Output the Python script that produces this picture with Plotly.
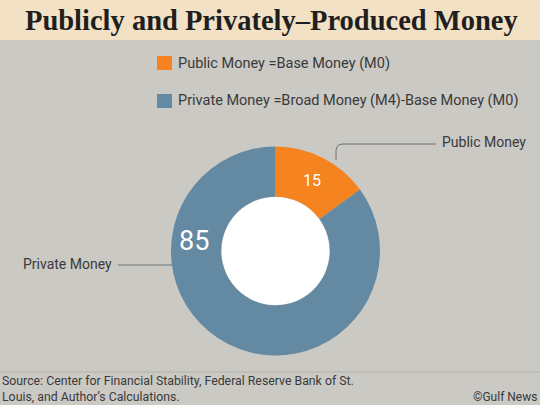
import plotly.graph_objects as go

labels = ["Public Money", "Private Money"]
values = [15, 85]
legend_texts = ["Public Money =Base Money (M0)",
                "Private Money =Broad Money (M4)-Base Money (M0)"]
colors = ["#f5831f", "#6489a3"]
title = "Publicly and Privately\u2013Produced Money"
source_lines = ["Source: Center for Financial Stability, Federal Reserve Bank of St.",
                "Louis, and Author\u2019s Calculations."]
credit = "\u00a9Gulf News"

W, H = 540, 405
def px(x): return x / W
def py(y): return 1 - y / H

BG = "#cac9c4"
BODY = "Roboto"
TXT = "#3a3a3a"

fig = go.Figure(go.Pie(
    labels=labels, values=values, sort=False, direction="clockwise", rotation=0,
    hole=0.52, marker=dict(colors=colors, line=dict(width=0)),
    textinfo="none", hoverinfo="label+value", showlegend=False,
    domain=dict(x=[px(171), px(380)], y=[py(355.5), py(146.5)]),
))

shapes = [
    dict(type="rect", xref="paper", yref="paper", x0=0, x1=1, y0=py(40), y1=1,
         fillcolor="#f3e1c5", line=dict(width=0), layer="below"),
    dict(type="circle", xref="paper", yref="paper", x0=px(221.5), x1=px(329.5),
         y0=py(305), y1=py(197), fillcolor="white", line=dict(width=0), layer="below"),
    dict(type="line", xref="paper", yref="paper", x0=0, x1=1, y0=py(372), y1=py(372),
         line=dict(color="#b2b1ac", width=1)),
    dict(type="path", xref="paper", yref="paper",
         path=f"M {px(336)},{py(160)} L {px(336)},{py(151)} Q {px(336)},{py(144)} {px(343)},{py(144)} L {px(436)},{py(144)}",
         line=dict(color="#707070", width=1)),
    dict(type="line", xref="paper", yref="paper", x0=px(118), x1=px(172), y0=py(265), y1=py(265),
         line=dict(color="#707070", width=1)),
]
for i, (c, yy) in enumerate(zip(colors, [56, 94])):
    shapes.append(dict(type="rect", xref="paper", yref="paper", x0=px(157), x1=px(172),
                       y0=py(yy + 14), y1=py(yy), fillcolor=c, line=dict(width=0)))

ann = [
    dict(text=f"<b>{title}</b>", x=px(271), y=py(20), xanchor="center", yanchor="middle",
         font=dict(family="Liberation Serif", size=28.5, color="#1f1f1f")),
    dict(text=legend_texts[0], x=px(176), y=py(63), xanchor="left", yanchor="middle",
         font=dict(family=BODY, size=14.5, color=TXT)),
    dict(text=legend_texts[1], x=px(176), y=py(101), xanchor="left", yanchor="middle",
         font=dict(family=BODY, size=14.5, color=TXT)),
    dict(text=labels[0], x=px(440), y=py(142), xanchor="left", yanchor="middle",
         font=dict(family=BODY, size=14, color=TXT)),
    dict(text=labels[1], x=px(21), y=py(264), xanchor="left", yanchor="middle",
         font=dict(family=BODY, size=14, color=TXT)),
    dict(text=str(values[0]), x=px(312), y=py(181), xanchor="center", yanchor="middle",
         font=dict(family=BODY, size=16, color="white")),
    dict(text=str(values[1]), x=px(194), y=py(241), xanchor="center", yanchor="middle",
         font=dict(family=BODY, size=27, color="white")),
    dict(text=source_lines[0] + "<br>" + source_lines[1], x=px(0), y=py(389),
         xanchor="left", yanchor="middle", align="left",
         font=dict(family=BODY, size=12.3, color=TXT)),
    dict(text=credit, x=px(539), y=py(397), xanchor="right", yanchor="middle",
         font=dict(family=BODY, size=12, color=TXT)),
]
for a in ann:
    a.update(xref="paper", yref="paper", showarrow=False)

fig.update_layout(width=W, height=H, margin=dict(l=0, r=0, t=0, b=0),
                  paper_bgcolor=BG, plot_bgcolor=BG, shapes=shapes, annotations=ann)
fig.write_html("out.html", config={"displayModeBar": False},
               post_script="document.body.style.margin='0';document.body.style.overflow='hidden';")
